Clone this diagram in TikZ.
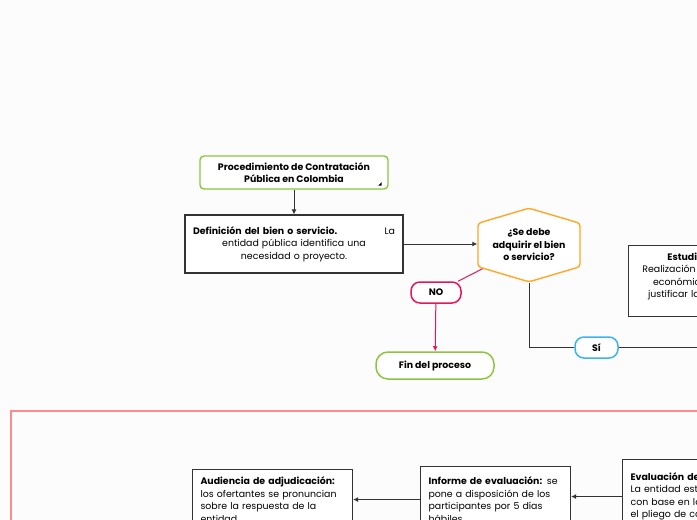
\documentclass[tikz,border=0pt]{standalone}
\usepackage{fontspec}
\setmainfont{Poppins}
\usetikzlibrary{arrows.meta,positioning,shapes.symbols}
\definecolor{mmgreen}{HTML}{8CC63F}
\definecolor{mmorange}{HTML}{FFA726}
\definecolor{mmred}{HTML}{E2185B}
\definecolor{mmblue}{HTML}{3FB3F0}
\definecolor{mmframe}{HTML}{FF8A8A}
\definecolor{mmline}{HTML}{333333}

\begin{document}
\begin{tikzpicture}[
  x=1pt, y=-1pt,
  font=\fontsize{9.4}{12.5}\selectfont,
  topic/.style={rectangle, draw=mmgreen, line width=1.4pt, rounded corners=4pt, fill=white,
    align=center, font=\fontsize{9.4}{12.5}\selectfont\bfseries},
  box/.style={rectangle, draw=mmline, line width=1.1pt, fill=white, inner xsep=8pt},
  question/.style={signal, signal to=north and south, signal pointer angle=147,
    draw=mmorange, line width=1.4pt, rounded corners=3pt, fill=white, align=center,
    font=\fontsize{9.4}{12.5}\selectfont\bfseries, minimum width=102pt, minimum height=67pt},
  pill/.style={rectangle, rounded corners=9pt, line width=1.5pt, fill=white,
    font=\fontsize{9.4}{12.5}\selectfont\bfseries, minimum height=21pt},
  arrow/.style={-{Latex[length=5pt,width=5pt]}, line width=1pt, draw=mmline},
  edge/.style={line width=1pt, draw=mmline}
]
  \useasboundingbox (0,0) rectangle (697,520);
  \clip (0,0) rectangle (697,520);
  \fill[white!99!black] (0,0) rectangle (697,520);

  \node[topic, minimum width=188pt, minimum height=33pt] (title) at (294,172.5)
    {Procedimiento de Contratación\\Pública en Colombia};
  \fill[black] ([xshift=-7pt,yshift=4pt]title.south east) -- ++(-3.5,0) -- ++(3.5,-3.5) -- cycle;

  \node[box, minimum width=218pt, minimum height=58pt, text width=202pt, align=center] (def) at (294,244)
    {\textbf{Definición del bien o servicio.}\hfill La\\entidad pública identifica una\\necesidad o proyecto.};
  \draw[arrow] (title) -- (def);

  \node[question] (q) at (529,245) {¿Se debe\\adquirir el bien\\o servicio?};
  \draw[arrow] (def) -- (def -| q.west);

  \node[pill, draw=mmred, minimum width=50pt] (no) at (436,292.5) {NO};
  \node[pill, draw=mmgreen, minimum width=118pt, minimum height=27pt, rounded corners=12pt] (fin) at (435,365.5) {Fin del proceso};
  \draw[edge, draw=mmred] (q) -- (no);
  \draw[arrow, draw=mmred] (no) -- (fin);

  \node[pill, draw=mmblue, minimum width=43pt] (si) at (596.5,347.5) {Sí};
  \coordinate (sifin) at (720,347.5);
  \draw[edge] (q.south) |- (si);
  \draw[edge] (si) -- (sifin);

  \node[box, anchor=north west, minimum width=184pt, inner ysep=7pt, text width=168pt, align=center] (estudio) at (628,245)
    {\textbf{Estudios de mercado:}\\Realización de estudios técnicos,\\económicos y jurídicos para\\justificar la necesidad pública.\\[-1pt]\mbox{}};

  % fase de selección
  \draw[mmframe, line width=2pt] (11,411) rectangle (760,600);

  \node[box, anchor=north west, minimum width=160pt, minimum height=60pt, text width=144pt, align=left] (aud) at (192,469)
    {\textbf{Audiencia de adjudicación:}\\los ofertantes se pronuncian\\sobre la respuesta de la\\entidad};
  \node[box, anchor=north west, minimum width=150pt, minimum height=66pt, text width=134pt, align=left] (inf) at (420,466)
    {\textbf{Informe de evaluación:} se\\pone a disposición de los\\participantes por 5 días\\hábiles};
  \node[box, anchor=north west, minimum width=170pt, minimum height=74pt, text width=154pt, align=left] (eval) at (622,459)
    {\textbf{Evaluación de ofertas:}\\La entidad estudia las ofertas\\con base en los criterios de\\el pliego de condiciones};
  \draw[arrow] (eval.west) -- (inf.east |- eval.west);
  \draw[arrow] (inf.west) -- (aud.east |- inf.west);
\end{tikzpicture}
\end{document}
